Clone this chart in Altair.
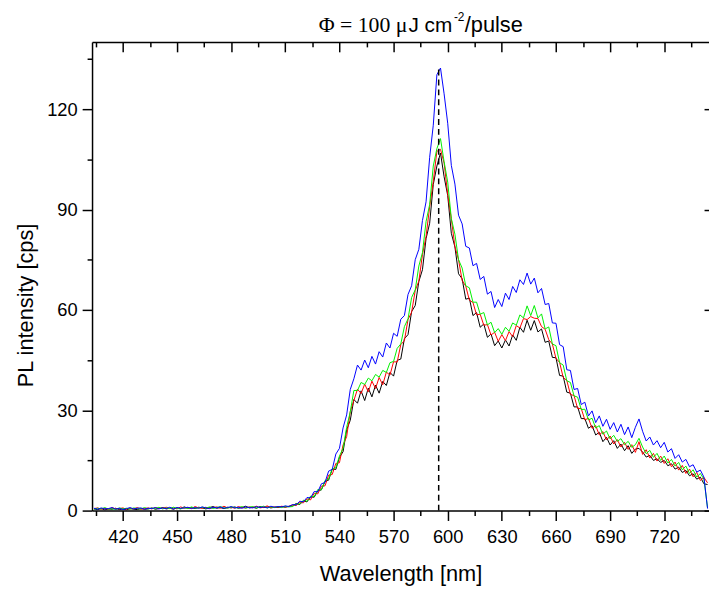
import altair as alt
import pandas as pd

wavelength = list(range(404, 745, 2))

black = [0.5,0.3,0.6,0.2,0.5,0.4,0.7,0.3,0.5,0.2, 0.6,0.4,0.3,0.6,0.4,0.5,0.8,0.4,0.6,0.9,
         0.5,0.7,0.4,0.8,0.6,1.1,0.7,0.9,0.6,1.0, 0.8,0.5,0.9,1.2,0.7,0.9,0.6,1.0,0.8,1.1,
         0.7,0.9,1.3,0.8,1.0,0.7,1.2,0.9,1.1,0.8, 1.0,0.9,1.2,1.0,1.3,
         1.4,2.1,1.8,2.9,2.6,4.1,4.0,5.9,6.2,8.7,9.1,12.4,12.3,15.9,17.6,24.1,27.0,33.2,32.1,35.8,
         32.9,36.6,34.0,37.5,35.1,38.6,37.4,41.3,40.2,44.9,45.3,51.4,52.6,59.5,61.3,68.5,72.0,81.3,85.9,97.5,103.0,
         106.9,99.8,94.2,82.9,78.8,70.8,69.3,63.2,63.5,58.3,59.2,54.8,55.8,51.8,52.8,49.3,50.7,48.6,51.0,49.2,
         52.5,50.9,54.8,53.3,56.9,53.9,56.8,53.4,54.3,50.3,50.7,45.8,45.7,40.4,40.2,35.4,35.1,31.0,31.0,27.5,
         27.5,24.6,25.4,22.6,23.4,20.6,21.9,19.6,20.9,18.6,19.9,17.9,19.4,17.1,18.4,18.6,17.5,16.0,16.5,15.0,
         15.5,14.4,15.0,13.4,14.0,12.4,13.0,11.4,12.0,10.4,11.0,9.4,10.0,8.0,7.8]

red = [0.6,0.8,0.4,0.7,0.3,0.9,0.5,0.6,0.8,0.4, 0.7,0.5,0.9,0.4,0.6,0.8,0.5,0.9,0.6,0.7,
       1.0,0.6,0.8,0.5,1.1,0.7,0.9,0.6,1.2,0.8, 0.7,1.0,0.6,0.9,1.1,0.7,1.3,0.8,1.0,0.7,
       1.2,0.9,0.8,1.1,0.9,1.3,0.8,1.0,1.4,0.9, 1.1,1.0,1.3,1.1,1.2,
       1.7,1.5,2.5,2.3,3.5,3.2,5.2,5.0,7.3,7.4,10.6,10.8,14.1,14.3,19.6,22.1,29.6,32.9,36.3,35.0,
       37.8,35.5,38.7,36.5,39.8,37.6,41.4,40.5,44.5,44.4,49.6,50.8,57.1,59.3,65.8,68.6,76.5,82.0,90.8,98.4,107.4,
       108.0,103.9,94.6,87.2,78.9,75.0,68.8,67.1,62.9,62.2,58.5,58.7,55.4,55.6,52.5,53.3,50.6,52.6,50.8,53.5,
       52.0,55.3,54.6,57.4,57.1,58.0,57.5,57.4,55.0,54.2,51.1,49.8,45.5,44.3,39.8,38.9,34.7,34.4,30.5,30.5,
       27.1,27.6,24.6,25.4,22.6,23.6,21.1,22.3,19.9,21.2,19.0,20.4,18.3,19.7,17.4,20.6,16.8,18.2,15.7,17.1,
       14.8,16.3,14.1,15.5,13.1,14.5,12.1,13.5,11.1,12.4,10.1,11.4,9.0,9.9,8.3]

green = [0.4,0.7,0.5,0.9,0.4,0.6,0.3,0.8,0.5,0.7, 0.4,0.8,0.6,0.5,0.9,0.5,0.7,0.6,1.0,0.5,
         0.8,0.6,1.0,0.7,0.5,0.9,0.6,1.1,0.7,0.8, 1.0,0.7,1.1,0.6,0.9,1.2,0.8,0.7,1.1,0.9,
         0.8,1.2,0.7,1.0,1.2,0.8,1.0,1.3,0.8,1.1, 0.9,1.2,0.9,1.3,1.1,
         1.2,2.0,2.0,3.1,2.8,4.3,4.2,6.3,6.2,9.0,9.4,12.5,12.8,16.3,18.6,24.9,29.5,35.9,35.9,38.3,
         37.7,39.6,38.8,40.7,39.9,41.9,41.3,44.2,44.6,48.5,49.8,55.0,57.3,63.7,66.0,73.1,77.1,86.4,91.5,103.0,108.2,
         111.2,104.3,98.2,87.3,82.6,75.0,72.5,67.2,66.6,62.3,62.3,58.7,59.2,55.5,56.3,53.2,54.4,52.7,54.8,53.6,
         56.1,55.4,58.5,57.6,61.2,58.3,61.3,57.6,58.8,54.3,54.9,49.8,49.3,44.2,43.5,38.8,38.3,34.3,33.9,30.2,
         30.3,27.1,27.6,24.7,25.4,22.8,23.8,21.4,22.5,20.7,21.5,19.7,20.7,18.9,19.7,21.6,19.0,17.0,18.0,15.9,
         17.1,15.0,16.3,14.2,15.3,13.3,14.4,12.2,13.3,11.1,12.2,10.0,11.1,9.4,0.8]

blue = [0.7,0.4,0.8,0.5,0.6,0.9,0.4,0.7,0.3,0.6, 0.9,0.5,0.7,0.8,0.4,0.7,0.6,0.9,0.5,0.8,
        0.6,1.0,0.5,0.9,0.7,0.8,1.0,0.6,0.9,0.7, 1.1,0.8,0.6,1.0,0.8,1.1,0.7,0.9,1.2,0.8,
        1.0,0.7,1.1,0.9,0.8,1.2,0.9,1.1,0.8,1.3, 1.0,1.2,1.1,1.4,1.2,
        1.8,1.7,2.8,2.6,3.9,3.8,5.7,5.6,8.0,8.4,11.8,12.3,16.9,18.6,24.7,28.6,36.2,39.4,43.5,42.0,
        45.0,42.7,46.1,43.8,47.5,45.9,50.1,48.6,53.0,52.1,57.2,58.3,64.6,67.2,75.0,78.1,86.7,92.3,105.6,115.2,130.3,
        132.3,124.6,115.8,103.2,97.6,88.3,85.7,79.0,78.5,73.2,73.9,69.1,70.0,64.7,65.5,60.7,63.1,61.0,65.0,63.1,
        67.0,65.2,69.0,67.6,71.0,67.7,69.5,65.1,66.4,61.6,61.9,56.1,56.0,49.6,49.0,42.1,41.9,36.2,36.5,31.7,
        32.4,28.3,29.8,26.3,28.3,25.2,27.3,24.3,26.3,23.5,25.8,22.7,25.0,21.8,24.9,27.4,23.7,20.8,22.0,19.6,
        20.9,18.8,20.4,17.5,18.5,15.6,16.7,14.5,15.3,13.1,13.7,11.5,12.1,10.0,0.6]

x_major = [420, 450, 480, 510, 540, 570, 600, 630, 660, 690, 720]
x_minor = [405, 435, 465, 495, 525, 555, 585, 615, 645, 675, 705, 735]
y_major = [0, 30, 60, 90, 120]
y_minor = [15, 45, 75, 105, 135]
peak_nm = [595]
peak_top = [132]

X_DOMAIN = [402.9, 744.8]
Y_DOMAIN = [0, 140.1]
W, H = 624, 474
FONT = "Liberation Sans"

xs = alt.Scale(domain=X_DOMAIN, nice=False, zero=False)
ys = alt.Scale(domain=Y_DOMAIN, nice=False, zero=False)


def series_df(vals):
    return pd.DataFrame({"wl": wavelength, "v": vals})


def line_layer(vals, color, xaxis, yaxis):
    return alt.Chart(series_df(vals)).mark_line(color=color, strokeWidth=1, clip=True).encode(
        x=alt.X("wl:Q", scale=xs, axis=xaxis),
        y=alt.Y("v:Q", scale=ys, axis=yaxis),
    )


common = dict(grid=False, domainColor="black", tickColor="black", domainWidth=1.5, tickWidth=1.5)

ax_bottom = alt.Axis(orient="bottom", values=x_major, tickSize=10, labelFont=FONT, labelFontSize=18.5,
                     labelColor="black", labelPadding=7, title="Wavelength [nm]", titleFont=FONT,
                     titleFontSize=22, titleFontWeight="normal", titleColor="black", titlePadding=18,
                     format="d", **common)
ay_left = alt.Axis(orient="left", values=y_major, tickSize=10, labelFont=FONT, labelFontSize=18.5,
                   labelColor="black", labelPadding=5, title="PL intensity [cps]", titleFont=FONT,
                   titleFontSize=22, titleFontWeight="normal", titleColor="black", titleAngle=-90,
                   titleAlign="center", titleBaseline="middle", titleX=-67, titleY=266,
                   format="d", **common)
ax_bottom_minor = alt.Axis(orient="bottom", values=x_minor, tickSize=5, labels=False, domain=False,
                           title=None, **common)
ay_left_minor = alt.Axis(orient="left", values=y_minor, tickSize=5, labels=False, domain=False,
                         title=None, **common)
ax_top = alt.Axis(orient="bottom", offset=-H, values=x_major, tickSize=10, labels=False,
                  title=None, **common)
ay_right = alt.Axis(orient="left", offset=-(W + 5), values=y_major, tickSize=10, labels=False,
                    title=None, **common)
ax_top_minor = alt.Axis(orient="bottom", offset=-H, values=x_minor, tickSize=5, labels=False,
                        domain=False, title=None, **common)
ay_right_minor = alt.Axis(orient="left", offset=-(W + 5), values=y_minor, tickSize=5, labels=False,
                          domain=False, title=None, **common)

l_black = line_layer(black, "#000000", ax_bottom, ay_left)
l_red = line_layer(red, "#ff0000", ax_bottom_minor, ay_left_minor)
l_green = line_layer(green, "#00f000", ax_top, ay_right)
l_blue = line_layer(blue, "#0000ff", ax_top_minor, ay_right_minor)

rule = alt.Chart(pd.DataFrame({"wl": peak_nm, "top": peak_top, "bot": [0]})).mark_rule(
    color="black", strokeDash=[6, 4], strokeWidth=1.5).encode(
    x=alt.X("wl:Q", scale=xs, axis=None),
    y=alt.Y("bot:Q", scale=ys, axis=None),
    y2="top:Q",
)

# title pieces: text, font, size, x (relative to plot left), y baseline, alignment
title_parts = [
    ("\u03a6 = 100 \u03bc", "Liberation Serif", 22, 319, -10, "right"),
    ("J cm", FONT, 21, 320, -10, "left"),
    ("-2", FONT, 12, 366, -21, "left"),
    ("/pulse", FONT, 22, 377, -10, "left"),
]
title_layers = []
for txt, fnt, size, px, py, al in title_parts:
    title_layers.append(
        alt.Chart(pd.DataFrame({"t": [txt]})).mark_text(
            font=fnt, fontSize=size, align=al, baseline="alphabetic", color="black").encode(
            text="t:N", x=alt.value(px), y=alt.value(py))
    )

chart = alt.layer(l_black, l_red, l_green, l_blue, rule, *title_layers).resolve_axis(
    x="independent", y="independent"
).properties(
    width=W, height=H,
    padding={"left": 85, "top": 31, "right": 0, "bottom": 77},
    autosize="none",
).configure_view(stroke=None)

chart.save("out.html", embed_options={"renderer": "svg", "actions": False})
